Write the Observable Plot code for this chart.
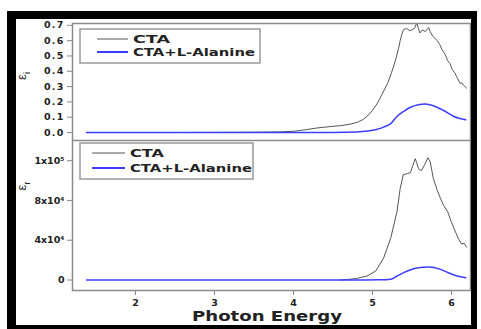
<!DOCTYPE html>
<html><head><meta charset="utf-8">
<script src="https://cdn.jsdelivr.net/npm/d3@7"></script>
<script src="https://cdn.jsdelivr.net/npm/@observablehq/plot@0.6"></script>
<style>
body{margin:0;background:#fff;width:481px;height:329px;overflow:hidden;position:relative;font-family:"DejaVu Sans",sans-serif;}
#topPanel,#botPanel,#over{position:absolute;left:0}
#topPanel{top:0}#botPanel{top:140px}#over{top:0}
#topPanel svg text{letter-spacing:1.2px}
#border{position:absolute;left:7px;top:11px;width:455px;height:306px;border-style:solid;border-color:#000;border-width:8px 6px 4px 9px;}
</style></head><body>
<div id="topPanel"></div><div id="botPanel"></div>
<svg id="over" width="481" height="329"></svg>
<div id="border"></div>
<script>
// ε_i (imaginary part)
const eiCtaE = [1.38,2.5,3.5,3.8,4.0,4.15,4.3,4.45,4.6,4.72,4.81,4.88,4.94,5.0,5.06,5.12,5.19,5.24,5.29,5.33,5.35,5.37,5.39,5.43,5.47,5.50,5.53,5.56,5.58,5.60,5.63,5.67,5.71,5.73,5.76,5.79,5.82,5.85,5.88,5.92,5.95,5.98,6.01,6.04,6.07,6.11,6.13,6.15,6.17,6.19];
const eiCtaV = [0,0,0.002,0.004,0.008,0.018,0.03,0.038,0.045,0.055,0.067,0.085,0.11,0.145,0.19,0.25,0.32,0.39,0.47,0.55,0.60,0.64,0.67,0.68,0.665,0.67,0.68,0.715,0.68,0.65,0.67,0.66,0.685,0.66,0.63,0.615,0.60,0.575,0.54,0.51,0.47,0.45,0.41,0.39,0.36,0.32,0.325,0.31,0.30,0.29];
const eiAlaE = [1.38,3.0,4.5,4.8,4.94,5.05,5.14,5.23,5.31,5.40,5.48,5.58,5.67,5.77,5.90,6.03,6.18];
const eiAlaV = [0,0,0.001,0.004,0.01,0.02,0.035,0.058,0.105,0.14,0.165,0.182,0.187,0.175,0.144,0.105,0.083];
// ε_r (real part)
const erCtaE = [4.59,4.7,4.81,4.93,5.04,5.14,5.23,5.31,5.35,5.39,5.44,5.48,5.51,5.54,5.56,5.58,5.62,5.66,5.70,5.73,5.77,5.82,5.86,5.90,5.95,5.99,6.03,6.09,6.13,6.16,6.19];
const erCtaV = [0,600,1700,4000,9000,22000,42000,69000,92000,106000,107000,108000,115000,122000,118000,112000,110000,116000,123000,119000,102000,90000,82000,75000,69000,60000,52000,41000,36000,37000,33000];
const erAlaE = [1.38,3.0,4.8,5.1,5.23,5.31,5.44,5.56,5.71,5.86,5.96,6.07,6.18];
const erAlaV = [0,0,0,200,800,4000,9000,12000,13000,10700,7300,4000,2300];
const xTicks = [2,3,4,5,6];
const eiTicks = [0,0.1,0.2,0.3,0.4,0.5,0.6,0.7];
const erTicks = [0,40000,80000,120000];
const erTickLabels = ["0","4x10\u2074","8x10\u2074","1x10\u2075"];
const seriesNames = ["CTA","CTA+L-Alanine"];
const seriesColors = ["#555","#3c3cff"];

const toRows = (E,V) => E.map((e,i)=>({e, v:V[i]}));
const font = {fontFamily:'"DejaVu Sans",sans-serif', fontSize:"9.5px", fontWeight:"bold", color:"#222", background:"transparent"};
const xDom = [1.203, 6.24];

const topChart = Plot.plot({
  width:481, height:140, marginLeft:72, marginRight:11, marginTop:23, marginBottom:0,
  style:font,
  x:{domain:xDom},
  y:{domain:[-0.052,0.712]},
  marks:[
    Plot.axisX({ticks:[], label:null}),
    Plot.axisY({ticks:eiTicks, tickFormat:d=>d.toFixed(1), tickSize:5, tickPadding:3, stroke:"#888", fill:"#222", label:null}),
    Plot.line(toRows(eiCtaE,eiCtaV), {x:"e", y:"v", stroke:seriesColors[0], strokeWidth:1}),
    Plot.line(toRows(eiAlaE,eiAlaV), {x:"e", y:"v", stroke:seriesColors[1], strokeWidth:1.5, curve:"monotone-x"}),
    Plot.frame({stroke:"#8a8a8a", strokeWidth:1.5})
  ]
});
document.getElementById("topPanel").appendChild(topChart);

const botChart = Plot.plot({
  width:481, height:190, marginLeft:72, marginRight:11, marginTop:0, marginBottom:40,
  style:font,
  x:{domain:xDom},
  y:{domain:[-10560,140300]},
  marks:[
    Plot.axisX({ticks:xTicks, tickFormat:d=>String(d), tickSize:5, tickPadding:4, stroke:"#888", fill:"#222", label:null}),
    Plot.axisY({ticks:erTicks, tickFormat:d=>erTickLabels[erTicks.indexOf(d)], tickSize:5, tickPadding:3, stroke:"#888", fill:"#222", label:null}),
    Plot.line(toRows(erCtaE,erCtaV), {x:"e", y:"v", stroke:seriesColors[0], strokeWidth:1}),
    Plot.line(toRows(erAlaE,erAlaV), {x:"e", y:"v", stroke:seriesColors[1], strokeWidth:1.5, curve:"monotone-x"}),
    Plot.frame({stroke:"#8a8a8a", strokeWidth:1.5})
  ]
});
document.getElementById("botPanel").appendChild(botChart);

// overlay: legends and axis titles
const svg = d3.select("#over");
function legend(x, y, w, h, lx0, lx1, rowY, tx, lens) {
  svg.append("rect").attr("x",x).attr("y",y).attr("width",w).attr("height",h)
    .attr("fill","none").attr("stroke","#999").attr("stroke-width",1.5);
  seriesNames.forEach((n,i)=>{
    svg.append("line").attr("x1",lx0).attr("x2",lx1).attr("y1",rowY[i]).attr("y2",rowY[i])
      .attr("stroke",seriesColors[i]).attr("stroke-width", i? 2 : 1);
    svg.append("text").attr("x",tx).attr("y",rowY[i]+4).text(n)
      .attr("font-family",'"DejaVu Sans",sans-serif').attr("font-weight","bold")
      .attr("font-size","11px").attr("textLength",lens[i]).attr("lengthAdjust","spacingAndGlyphs").attr("fill","#222");
  });
}
legend(80,29,180,34,97,128,[39,52],133,[37,122]);
legend(80,143,173,36,92,125,[153,168],130,[34,122]);

function ylab(cx, cy, sub) {
  const t = svg.append("text").attr("transform",`translate(${cx},${cy}) rotate(-90)`)
    .attr("text-anchor","middle").attr("font-family",'"Liberation Sans",Arial,sans-serif')
    .attr("font-size","13px").attr("fill","#222");
  t.append("tspan").text("\u03B5");
  t.append("tspan").attr("dy",4).attr("font-size","9px").text(sub);
}
ylab(26, 76, "i");
ylab(26, 186, "r");

svg.append("text").attr("x",192).attr("y",321)
  .attr("font-family",'"DejaVu Sans",sans-serif').attr("font-weight","bold")
  .attr("font-size","14px").attr("textLength",150).attr("lengthAdjust","spacingAndGlyphs").attr("fill","#222").text("Photon Energy");
</script>
</body></html>
